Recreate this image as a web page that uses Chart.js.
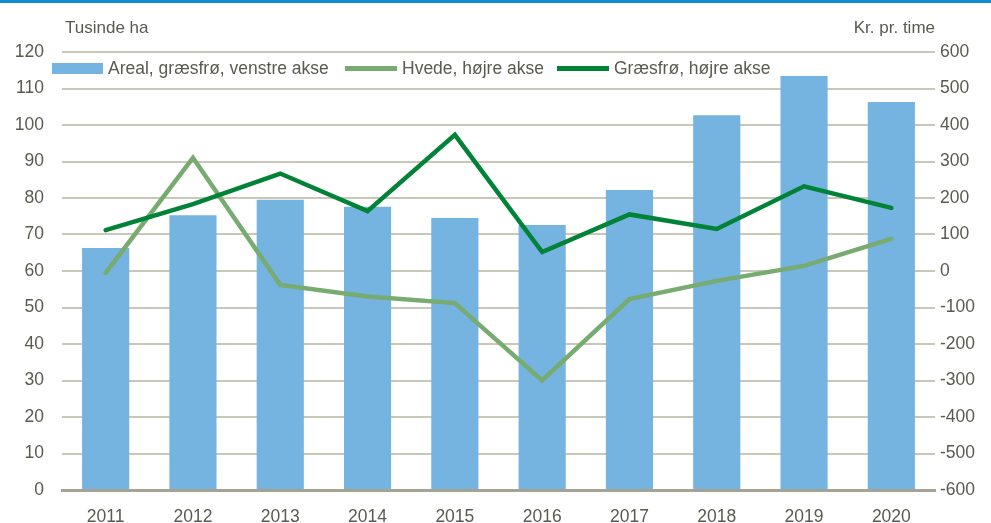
<!DOCTYPE html>
<html>
<head>
<meta charset="utf-8">
<script src="https://cdn.jsdelivr.net/npm/chart.js@4/dist/chart.umd.min.js"></script>
<style>
    html, body { margin: 0; padding: 0; background: #fff; }
    body { width: 991px; height: 523px; position: relative; overflow: hidden;
        font-family: 'Liberation Sans', Arial, sans-serif; color: #5a5a50; }
    .topbar { position: absolute; left: 0; top: 0; width: 991px; height: 3px; background: #0f8bd0; }
    .wrap { position: absolute; left: 0; top: 0; width: 991px; height: 523px; }
    .title { position: absolute; top: 17px; font-size: 17px; line-height: 22px; }
    .legend-item { position: absolute; top: 57px; height: 22px; display: flex; align-items: center; font-size: 17.5px; white-space: nowrap; }
    .swatch { display: inline-block; margin-right: 5px; }
</style>
</head>
<body>
<div class="topbar"></div>
<div class="wrap"><canvas id="chart" width="991" height="523"></canvas></div>
<div class="title" style="left:65px;">Tusinde ha</div>
<div class="title" style="right:56px;">Kr. pr. time</div>
<div id="legend"></div>
<script>
const years = ['2011', '2012', '2013', '2014', '2015', '2016', '2017', '2018', '2019', '2020'];
const arealValues = [66.3, 75.3, 79.5, 77.6, 74.5, 72.6, 82.2, 102.7, 113.4, 106.3];
const hvedeValues = [-5, 310, -38, -70, -88, -300, -77, -27, 14, 88];
const graesfroValues = [112, 183, 267, 164, 373, 52, 155, 115, 232, 173];
const leftAxis = { min: 0, max: 120, step: 10 };
const rightAxis = { min: -600, max: 600, step: 100 };

const textColor = '#5a5a50';
const gridColor = '#c9c7b8';
const tickFont = { family: "'Liberation Sans', Arial, sans-serif", size: 17.5 };

const legendItems = [
    { label: 'Areal, græsfrø, venstre akse', color: '#75b3e1', left: 52, w: 51, h: 11 },
    { label: 'Hvede, højre akse', color: '#77ab70', left: 345, w: 52, h: 5 },
    { label: 'Græsfrø, højre akse', color: '#008237', left: 557, w: 52, h: 5 }
];

function renderLegend() {
    const el = document.getElementById('legend');
    el.innerHTML = legendItems.map((it) =>
        `<div class="legend-item" style="left:${it.left}px"><span class="swatch" style="width:${it.w}px;height:${it.h}px;background:${it.color}"></span>${it.label}</div>`
    ).join('');
}

function renderChart() {
    const canvas = document.getElementById('chart');
    new Chart(canvas, {
        data: {
            labels: years,
            datasets: [
                {
                    type: 'line',
                    label: 'Græsfrø, højre akse',
                    data: graesfroValues,
                    yAxisID: 'y1',
                    borderColor: '#008237',
                    borderWidth: 4.5,
                    borderCapStyle: 'round',
                    borderJoinStyle: 'miter',
                    pointRadius: 0,
                    tension: 0,
                    order: 0
                },
                {
                    type: 'line',
                    label: 'Hvede, højre akse',
                    data: hvedeValues,
                    yAxisID: 'y1',
                    borderColor: '#77ab70',
                    borderWidth: 4.5,
                    borderCapStyle: 'round',
                    borderJoinStyle: 'miter',
                    pointRadius: 0,
                    tension: 0,
                    order: 1
                },
                {
                    type: 'bar',
                    label: 'Areal, græsfrø, venstre akse',
                    data: arealValues,
                    yAxisID: 'y',
                    backgroundColor: '#75b3e1',
                    categoryPercentage: 1,
                    barPercentage: 0.54,
                    order: 2
                }
            ]
        },
        options: {
            responsive: false,
            animation: false,
            layout: { padding: { top: 52, left: 0, right: 0, bottom: 0 } },
            plugins: { legend: { display: false }, tooltip: { enabled: false } },
            scales: {
                x: {
                    grid: { display: false },
                    border: { color: '#a5a393', width: 3 },
                    ticks: { color: textColor, font: tickFont, padding: 9 },
                    afterFit: (scale) => { scale.height = 33; }
                },
                y: {
                    position: 'left',
                    min: leftAxis.min,
                    max: leftAxis.max,
                    grid: { color: gridColor, lineWidth: 2, drawTicks: false },
                    border: { display: false },
                    ticks: { stepSize: leftAxis.step, color: textColor, font: tickFont, padding: 18 },
                    afterFit: (scale) => { scale.width = 62; }
                },
                y1: {
                    position: 'right',
                    min: rightAxis.min,
                    max: rightAxis.max,
                    grid: { drawOnChartArea: false, drawTicks: false },
                    border: { display: false },
                    ticks: { stepSize: rightAxis.step, color: textColor, font: tickFont, padding: 5 },
                    afterFit: (scale) => { scale.width = 56; }
                }
            }
        }
    });
}

renderLegend();
renderChart();
</script>
</body>
</html>
